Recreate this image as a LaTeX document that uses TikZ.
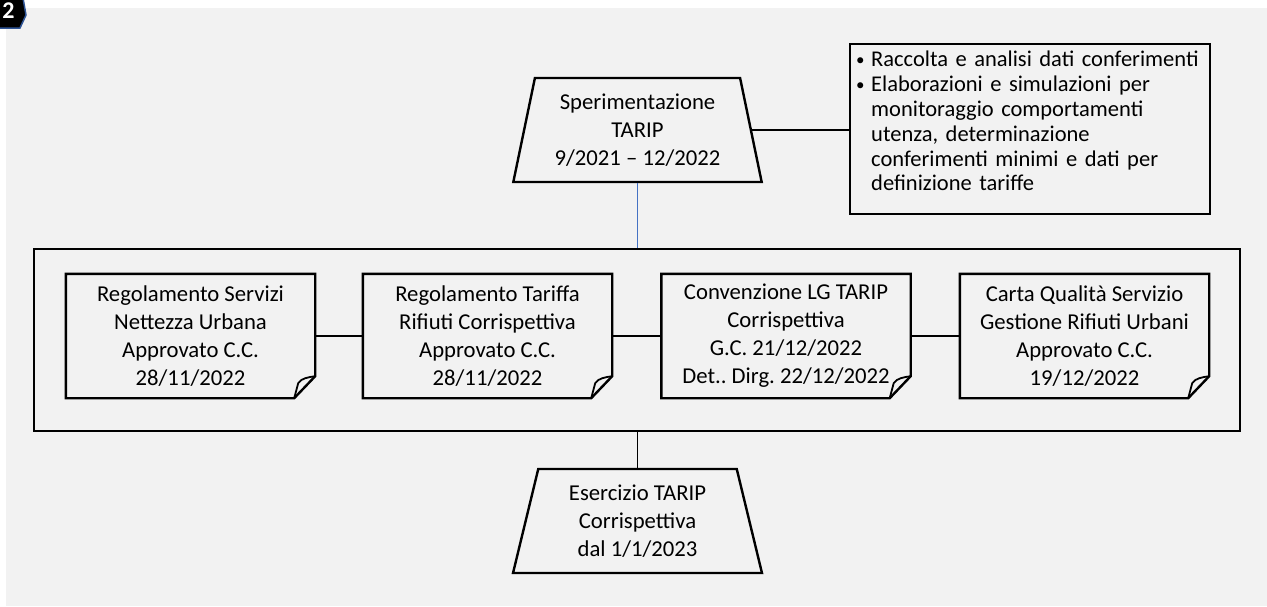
\documentclass[tikz,border=0pt]{standalone}
\usepackage{fontspec}
\setmainfont{Carlito}
\usetikzlibrary{shapes.geometric}
\definecolor{bggray}{HTML}{F2F2F2}
\definecolor{lineblue}{HTML}{4472C4}
\definecolor{badgeblue}{HTML}{2F5597}
\frenchspacing
\newcommand\docoutline[1]{%
  \draw[docline] (#1.north west) -- (#1.north east) -- ([yshift=22pt]#1.south east)
    -- ([xshift=-21pt]#1.south east) -- (#1.south west) -- cycle;
  \draw[docline, line width=1.8pt] ([xshift=-21pt]#1.south east)
    -- ([xshift=-17pt,yshift=15pt]#1.south east)
    .. controls ([xshift=-14pt,yshift=20pt]#1.south east) and ([xshift=-7pt,yshift=21pt]#1.south east)
    .. ([yshift=22pt]#1.south east);
}
\newcommand\bulmark{\makebox[15pt][l]{\raisebox{1pt}{\fontsize{17}{17}\selectfont •}}}
\begin{document}
\begin{tikzpicture}[x=1pt,y=-1pt,
  every node/.style={font=\fontsize{22.7}{28}\selectfont\frenchspacing},
  docline/.style={draw=black, line width=2.4pt, line join=miter},
  conn/.style={draw=black, line width=1.6pt},
  trap/.style={trapezium, draw, line width=2.4pt, trapezium left angle=76.5,
    trapezium right angle=76.5, trapezium stretches=true, minimum width=249,
    minimum height=104, inner sep=0pt, align=center},
  docnode/.style={rectangle, minimum width=249, minimum height=124, inner sep=0pt, align=center},
]
\useasboundingbox (0,0) rectangle (1267,606);
\fill[bggray] (6,8) rectangle (1267,606);
% badge
\filldraw[fill=black, draw=badgeblue, line width=1.5pt]
  (-5,-5) -- (22.5,-5) -- (26,15) -- (20,28) -- (-5,28) -- cycle;
\node[anchor=base, text=white, font=\bfseries\fontsize{24}{24}\selectfont] (badge) at (8.5,18) {2};
% frame
\node[draw, line width=2.4pt, minimum width=1206, minimum height=182, inner sep=0pt] (frame) at (637,340) {};
% top trapezium
\node[trap] (ta) at (637.5,130) {Sperimentazione\\TARIP\\9/2021 – 12/2022};
% bullet box
\node[draw, line width=2.4pt, anchor=north west, text width=348, inner xsep=6pt, inner ysep=7pt,
  align=left, font=\fontsize{22.5}{24.8}\selectfont\frenchspacing] (bul) at (849,43)
  {\bulmark Raccolta e analisi dati conferimenti\\
   \bulmark Elaborazioni e simulazioni per\\
   \hspace*{15pt}monitoraggio comportamenti\\
   \hspace*{15pt}utenza, determinazione\\
   \hspace*{15pt}conferimenti minimi e dati per\\
   \hspace*{15pt}definizione tariffe\rule[-16pt]{0pt}{16pt}};
% documents
\node[docnode] (d1) at (190.5,336) {Regolamento Servizi\\Nettezza Urbana\\Approvato C.C.\\28/11/2022};
\node[docnode] (d2) at (487.5,336) {Regolamento Tariffa\\Rifiuti Corrispettiva\\Approvato C.C.\\28/11/2022};
\node[docnode] (d3) at (786,336) {Convenzione LG TARIP\\Corrispettiva\\G.C. 21/12/2022\\Det.. Dirg. 22/12/2022};
\node[docnode] (d4) at (1084.5,336) {Carta Qualità Servizio\\Gestione Rifiuti Urbani\\Approvato C.C.\\19/12/2022};
\docoutline{d1}
\docoutline{d2}
\docoutline{d3}
\docoutline{d4}
% bottom trapezium
\node[trap] (tb) at (637.5,521) {Esercizio TARIP\\Corrispettiva\\dal 1/1/2023};
% connectors
\draw[conn] (d1.east) -- (d2.west);
\draw[conn] (d2.east) -- (d3.west);
\draw[conn] (d3.east) -- (d4.west);
\draw[lineblue, line width=1.3pt] (ta.south) -- (ta.south |- frame.north);
\draw[conn] (frame.south -| tb.north) -- (tb.north);
\draw[conn] (ta.east) -- (ta.east -| bul.west);
\end{tikzpicture}
\end{document}
